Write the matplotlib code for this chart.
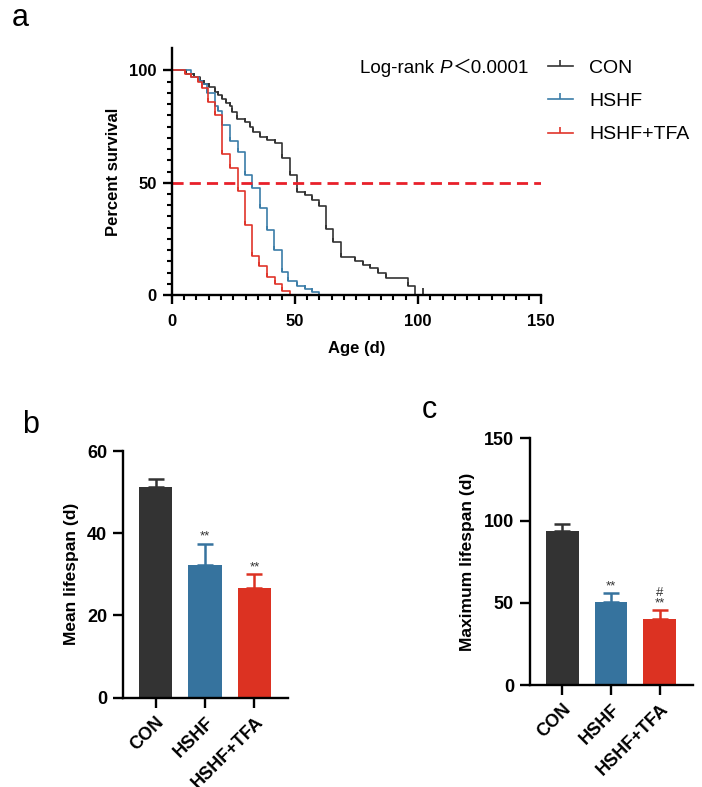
import matplotlib
matplotlib.use('Agg')
import matplotlib.pyplot as plt
from matplotlib.lines import Line2D
from matplotlib.ticker import MultipleLocator, FixedLocator

plt.rcParams['font.family'] = ['Liberation Sans', 'Noto Sans CJK SC', 'DejaVu Sans']

# Kaplan-Meier Daten (Zeit in Tagen, Überleben in %)
con_t = [6, 9, 11.5, 13, 15, 17.5, 19, 20.5, 22, 23.5, 24.5, 26.5, 29.7, 31.7, 33,
         35.8, 38.8, 41.8, 44.8, 48, 50.8, 54, 57, 60, 62.7, 65.7, 68.9, 74.5, 77.8,
         80.7, 83.6, 87, 96.1, 98.8]
con_s = [98.5, 97, 95.5, 94, 92.5, 90.5, 89, 87.5, 85.5, 84, 81.5, 78.5, 77, 75, 72.8,
         70.4, 69, 67.5, 61, 53.5, 46, 44.5, 42.5, 39.5, 29.5, 23.5, 17, 15, 13.5,
         12, 9.8, 7.5, 4, 0]
con_end = 102

hshf_t = [8, 11, 12.5, 14.5, 17.5, 19, 20.5, 23.6, 26.8, 29.7, 32.7, 35.9, 38.7,
          41.7, 44.7, 47.4, 50.8, 54.2, 57, 60]
hshf_s = [97, 95.5, 94, 90, 84, 82, 75.5, 68.5, 63.8, 53.5, 47.5, 38.6, 29, 20,
          10.4, 6.2, 4, 2.6, 1.3, 0]

tfa_t = [5.5, 8, 10.5, 12.5, 14.6, 17.6, 20.5, 23.7, 26.8, 29.8, 32.6, 35.6, 38.6,
         41.8, 44.7, 47.9]
tfa_s = [98.5, 97, 95, 92, 86, 80, 63, 56.5, 46.5, 31, 17.5, 13, 8.2, 4.8, 2, 0]

groups = ['CON', 'HSHF', 'HSHF+TFA']
line_colors = ['#333333', '#3B7DA8', '#E0352B']
bar_colors = ['#333333', '#36739E', '#DC3222']

# Balkendiagramme
mean_life = [51.3, 32.3, 26.6]
mean_err = [2.0, 5.2, 3.5]
max_life = [93.6, 50.6, 40.1]
max_err = [4.3, 5.5, 5.5]
mean_sig = ['', '**', '**']
max_sig = ['', '**', '#\n**']

W, H = 702, 787
fig = plt.figure(figsize=(W / 100, H / 100), dpi=100)

def style_axis(ax):
    for s in ['top', 'right']:
        ax.spines[s].set_visible(False)
    for s in ['left', 'bottom']:
        ax.spines[s].set_linewidth(1.7)
    ax.tick_params(which='major', width=1.7, length=6.5, labelsize=12, pad=4.5)
    ax.tick_params(which='minor', width=1.5, length=3.5)
    for lab in ax.get_xticklabels() + ax.get_yticklabels():
        lab.set_fontweight('bold')

# --- Panel a ---
ax1 = fig.add_axes([171.7 / W, 1 - 295 / H, (541 - 171.7) / W, (295 - 48) / H])
series = [(con_t, con_s, con_end), (hshf_t, hshf_s, None), (tfa_t, tfa_s, None)]
for (t, s, end), c in zip(series, line_colors):
    xs = [0] + t
    ys = [100] + s
    if end is not None:
        xs = xs + [end]
        ys = ys + [0]
    ax1.step(xs, ys, where='post', color=c, lw=1.2, clip_on=False)
    ax1.plot(t[:-1], s[:-1], ls='none', marker=2, ms=3, mew=1.3, color=c)
    if end is not None:
        ax1.plot([end], [0], ls='none', marker=2, ms=5, mew=1.3, color=c, clip_on=False)

ax1.axhline(50, xmin=0, xmax=1, color='#E8202A', lw=2.0, ls=(0, (4, 2.2)))
ax1.set_xlim(0, 150)
ax1.set_ylim(0, 110)
ax1.xaxis.set_major_locator(FixedLocator([0, 50, 100, 150]))
ax1.xaxis.set_minor_locator(MultipleLocator(5))
ax1.yaxis.set_major_locator(FixedLocator([0, 50, 100]))
ax1.yaxis.set_minor_locator(FixedLocator(list(range(0, 101, 5))))
ax1.set_xlabel('Age (d)', fontsize=12, fontweight='bold', labelpad=9)
ax1.set_ylabel('Percent survival', fontsize=12, fontweight='bold', labelpad=6)
style_axis(ax1)
ax1.tick_params(axis='x', which='major', pad=7)

handles = [Line2D([], [], color=c, lw=1.2, marker=2, ms=4, mew=1.2) for c in line_colors]
fig.legend(handles, groups, loc='upper left', bbox_to_anchor=(530 / W, 1 - 42 / H),
           frameon=False, fontsize=14, handlelength=1.3, handletextpad=0.85,
           labelspacing=0.8, numpoints=1)

# Log-rank Text in drei Teilen (kursives P, volle Breite "＜"), rechtsbündig bei x=528
renderer = fig.canvas.get_renderer()
ty = 1 - 73 / H
parts = [('Log-rank ', 'normal'), ('P', 'italic'), ('＜0.0001', 'normal')]
objs = []
x0 = 0.0
for txt, st in parts:
    t_obj = fig.text(x0, ty, txt, ha='left', va='baseline', fontsize=13.5, style=st)
    bb = t_obj.get_window_extent(renderer)
    x0 = bb.x1 / W
    objs.append(t_obj)
shift = 528 / W - x0
for t_obj in objs:
    px, py = t_obj.get_position()
    t_obj.set_position((px + shift, py))

# --- Panel b und c ---
def bar_panel(rect, vals, errs, sig, ymax, step, ylabel):
    ax = fig.add_axes(rect)
    x = list(range(len(groups)))
    ax.bar(x, vals, width=0.67, color=bar_colors, zorder=2)
    for i in x:
        ax.errorbar(i, vals[i], yerr=[[0], [errs[i]]], fmt='none', ecolor=bar_colors[i],
                    elinewidth=1.8, capsize=5.5, capthick=1.8, zorder=1)
        if sig[i]:
            ax.text(i, vals[i] + errs[i] + ymax * 0.003, sig[i], ha='center', va='bottom',
                    fontsize=9.5, color='#333333', linespacing=0.8)
    ax.set_xlim(-0.66, 2.68)
    ax.set_ylim(0, ymax)
    ax.yaxis.set_major_locator(MultipleLocator(step))
    ax.set_xticks(x)
    ax.set_xticklabels(groups, rotation=45, ha='right', rotation_mode='anchor')
    ax.set_ylabel(ylabel, fontsize=12.5, fontweight='bold', labelpad=6)
    style_axis(ax)
    ax.tick_params(which='major', length=7, labelsize=13)
    return ax

bar_panel([123 / W, 1 - 697.7 / H, (288 - 123) / W, (697.7 - 451) / H],
          mean_life, mean_err, mean_sig, 60, 20, 'Mean lifespan (d)')
bar_panel([530 / W, 1 - 685 / H, (693 - 530) / W, (685 - 438.3) / H],
          max_life, max_err, max_sig, 150, 50, 'Maximum lifespan (d)')

fig.text(12 / W, 1 - 18 / H, 'a', fontsize=22, va='center', ha='left')
fig.text(22 / W, 1 - 425 / H, 'b', fontsize=22, va='center', ha='left')
fig.text(422 / W, 1 - 410 / H, 'c', fontsize=22, va='center', ha='left')

fig.savefig('out.png', dpi=100)
